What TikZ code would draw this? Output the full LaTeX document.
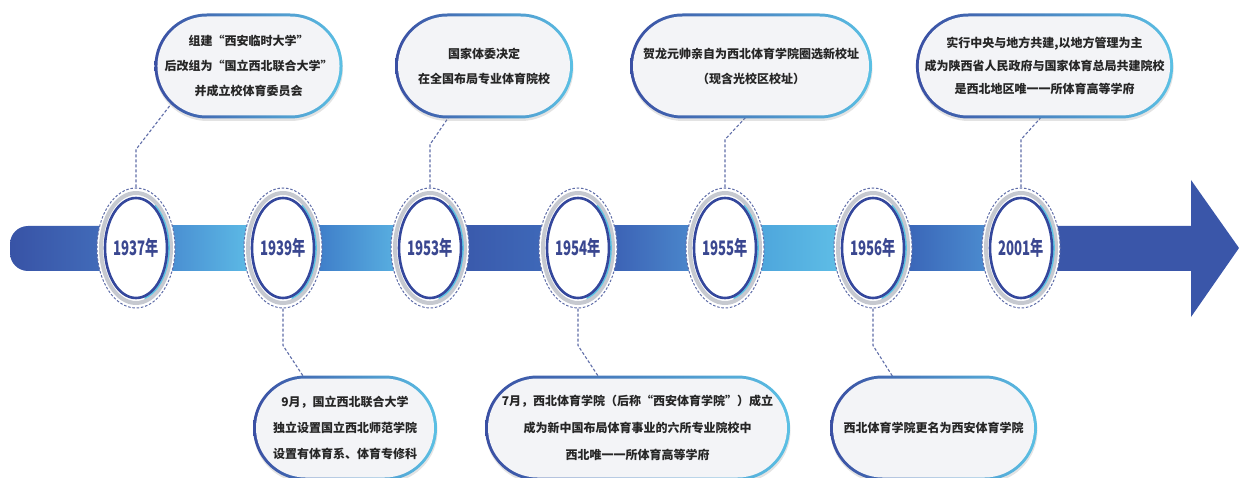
\documentclass[tikz,border=0pt]{standalone}
\usepackage{fontspec}
\setmainfont{Noto Sans CJK SC}
\usetikzlibrary{shapes.geometric,shapes.misc,calc,shadows,backgrounds}
\definecolor{bdark}{HTML}{3A4FA3}
\definecolor{bcyan}{HTML}{5BC0E4}
\definecolor{boxfill}{HTML}{F3F4F7}
\definecolor{txt}{HTML}{262626}
\definecolor{yeartxt}{HTML}{3A4790}
\definecolor{conn}{HTML}{5F6DA8}
\definecolor{ringgray}{HTML}{C6C9D0}
\definecolor{ringblue}{HTML}{34479C}
\definecolor{ringcyan}{HTML}{5CC4E4}
\definecolor{arrowblue}{HTML}{3A56A9}
\definecolor{sA}{HTML}{3853A6}\definecolor{sB}{HTML}{4574C0}
\definecolor{sC}{HTML}{4A8FD2}\definecolor{sD}{HTML}{5CB9E5}
\definecolor{sE}{HTML}{3F7EC9}\definecolor{sF}{HTML}{58AEE0}
\definecolor{sG}{HTML}{3A5AAC}\definecolor{sH}{HTML}{3E68B8}
\definecolor{sI}{HTML}{3C62B5}\definecolor{sJ}{HTML}{4A86CB}
\definecolor{sK}{HTML}{4EA6DC}\definecolor{sL}{HTML}{5EBDE6}
\definecolor{sM}{HTML}{3A66B8}\definecolor{sN}{HTML}{4B8BCF}
\newcommand\yearlabel[1]{\scalebox{0.66}[1]{#1}}
\newcommand\yearrings[1]{%
  \draw[ringgray, line width=4pt] (#1.center) ellipse [x radius=35pt, y radius=55pt];
  \draw[ringcyan, line width=1.6pt] (#1.center) ++(-75:33pt and 52pt) arc [start angle=-75, end angle=55, x radius=33pt, y radius=52pt];
  \draw[ringblue, line width=2.6pt] (#1.center) ellipse [x radius=31pt, y radius=50pt];}
\begin{document}
\begin{tikzpicture}[x=1pt,y=-1pt,
  event/.style={rounded rectangle, minimum width=#1, minimum height=105pt, inner sep=0pt,
    left color=bdark, right color=bcyan,
    drop shadow={shadow xshift=0.5pt, shadow yshift=-2.5pt, opacity=0.22},
    path picture={\fill[boxfill, rounded corners=49.5pt] ([shift={(3pt,3pt)}]path picture bounding box.south west) rectangle ([shift={(-3pt,-3pt)}]path picture bounding box.north east);},
    align=center, text=txt, font=\bfseries\fontsize{12}{25}\selectfont},
  yearcirc/.style={ellipse, minimum width=78pt, minimum height=120pt, inner sep=0pt,
    fill=white, draw=conn, dash pattern=on 2.5pt off 1.8pt, line width=1pt,
    text=yeartxt, font=\bfseries\fontsize{20}{20}\selectfont},
  conline/.style={draw=conn, dash pattern=on 3pt off 2pt, line width=1.1pt}]
\useasboundingbox (0,0) rectangle (1239,478);

% band segments
\shade[left color=sA, right color=sB, rounded corners=18pt] (10,226) rectangle (136,271);
\shade[left color=sC, right color=sD] (171,226) rectangle (248,271);
\shade[left color=sE, right color=sF] (318,226) rectangle (395,271);
\shade[left color=sG, right color=sH] (465,226) rectangle (543,271);
\shade[left color=sI, right color=sJ] (613,226) rectangle (690,271);
\shade[left color=sK, right color=sL] (760,226) rectangle (838,271);
\shade[left color=sM, right color=sN] (908,226) rectangle (986,271);
\fill[arrowblue] (1040,226) -- (1191,226) -- (1191,180) -- (1239,248) -- (1191,317) -- (1191,271) -- (1040,271) -- cycle;

% year circles
\node[yearcirc] (c1937) at (136,248) {\yearlabel{1937年}};
\node[yearcirc] (c1939) at (283,248) {\yearlabel{1939年}};
\node[yearcirc] (c1953) at (430,248) {\yearlabel{1953年}};
\node[yearcirc] (c1954) at (578,248) {\yearlabel{1954年}};
\node[yearcirc] (c1955) at (725,248) {\yearlabel{1955年}};
\node[yearcirc] (c1956) at (873,248) {\yearlabel{1956年}};
\node[yearcirc] (c2001) at (1021,248) {\yearlabel{2001年}};
\yearrings{c1937}\yearrings{c1939}\yearrings{c1953}\yearrings{c1954}
\yearrings{c1955}\yearrings{c1956}\yearrings{c2001}

% event boxes
\node[event=187pt] (b1) at (248.5,66) {组建“西安临时大学”\\后改组为“国立西北联合大学”\\并成立校体育委员会};
\node[event=178pt] (b2) at (484,66) {国家体委决定\\在全国布局专业体育院校};
\node[event=242pt] (b3) at (751,66) {贺龙元帅亲自为西北体育学院圈选新校址\\（现含光校区校址）};
\node[event=255pt, font=\bfseries\fontsize{12}{23}\selectfont] (b4) at (1044.5,66) {实行中央与地方共建,以地方管理为主\\成为陕西省人民政府与国家体育总局共建院校\\是西北地区唯一一所体育高等学府};
\node[event=184pt, font=\bfseries\fontsize{12}{26}\selectfont] (b5) at (345,428) {9月，国立西北联合大学\\独立设置国立西北师范学院\\设置有体育系、体育专修科};
\node[event=305pt, font=\bfseries\fontsize{12}{27}\selectfont] (b6) at (637.5,428) {7月，西北体育学院（后称“西安体育学院”）成立\\成为新中国布局体育事业的六所专业院校中\\西北唯一一所体育高等学府};
\node[event=207pt] (b7) at (933.5,428) {西北体育学院更名为西安体育学院};

% connectors
\begin{pgfonlayer}{background}
\draw[conline] (c1937.north) -- ++(0,-38) -- ($(b1.center)+(-68.5,26.5)$);
\draw[conline] (c1953.north) -- ++(0,-43) -- ($(b2.center)+(-24,34.5)$);
\draw[conline] (c1955.north) -- ++(0,-48) -- ($(b3.center)+(3,42.5)$);
\draw[conline] (c2001.north) -- ++(0,-48) -- ($(b4.center)+(4.5,42.5)$);
\draw[conline] (c1939.south) -- ++(0,37) -- ($(b5.center)+(-35,-41.5)$);
\draw[conline] (c1954.south) -- ++(0,37) -- ($(b6.center)+(-32.5,-41.5)$);
\draw[conline] (c1956.south) -- ++(0,37) -- ($(b7.center)+(-34.5,-41.5)$);
\end{pgfonlayer}
\end{tikzpicture}
\end{document}
